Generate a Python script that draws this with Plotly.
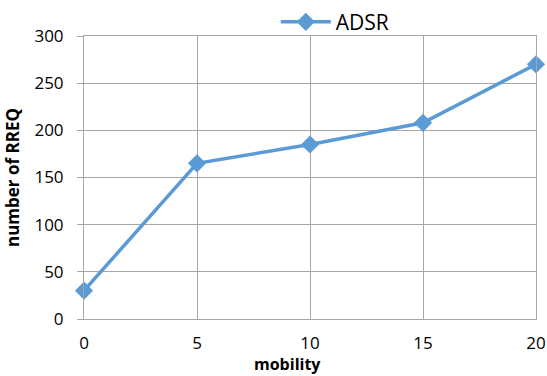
import plotly.graph_objects as go

mobility = [0, 5, 10, 15, 20]
rreq = [30, 165, 185, 208, 270]
series_name = "ADSR"
x_title = "mobility"
y_title = "number of RREQ"

color = "#5B9BD5"
grid = "#A6A6A6"

fig = go.Figure()
fig.add_trace(go.Scatter(
    x=mobility, y=rreq, name=series_name, mode="lines+markers",
    line=dict(color=color, width=3.5),
    marker=dict(symbol="diamond", size=14, color=color),
    cliponaxis=False,
))

font_fam = "Open Sans, Liberation Sans, Arial, sans-serif"
fig.update_layout(
    width=547, height=376,
    margin=dict(l=84, r=11, t=36, b=57, autoexpand=False),
    paper_bgcolor="white", plot_bgcolor="white",
    font=dict(family=font_fam, size=17, color="black"),
    showlegend=True,
    legend=dict(orientation="h", xref="container", yref="container",
                x=0.613, xanchor="center", y=0.941, yanchor="middle",
                font=dict(size=21), itemwidth=50, bgcolor="rgba(0,0,0,0)"),
    xaxis=dict(range=[0, 20], tickmode="array", tickvals=mobility,
               showgrid=True, gridcolor=grid, gridwidth=1,
               showline=True, linecolor=grid, mirror=True,
               zeroline=False, ticks="", ticklabelstandoff=9, automargin=False),
    yaxis=dict(range=[0, 300], tickmode="array", tickvals=[0, 50, 100, 150, 200, 250, 300],
               showgrid=True, gridcolor=grid, gridwidth=1,
               showline=True, linecolor=grid, mirror=True,
               zeroline=False, ticks="outside", ticklen=6, tickcolor=grid,
               ticklabelstandoff=10, automargin=False,
               title=dict(text="<b>" + y_title + "</b>", font=dict(size=17), standoff=10)),
    annotations=[dict(text="<b>" + x_title + "</b>", xref="paper", yref="paper",
                      x=0.451, y=-0.159, xanchor="center", yanchor="middle",
                      showarrow=False, font=dict(size=16))],
)

fig.write_html("out.html", config={"displayModeBar": False},
               post_script="document.body.style.margin='0';document.body.style.overflow='hidden';")
